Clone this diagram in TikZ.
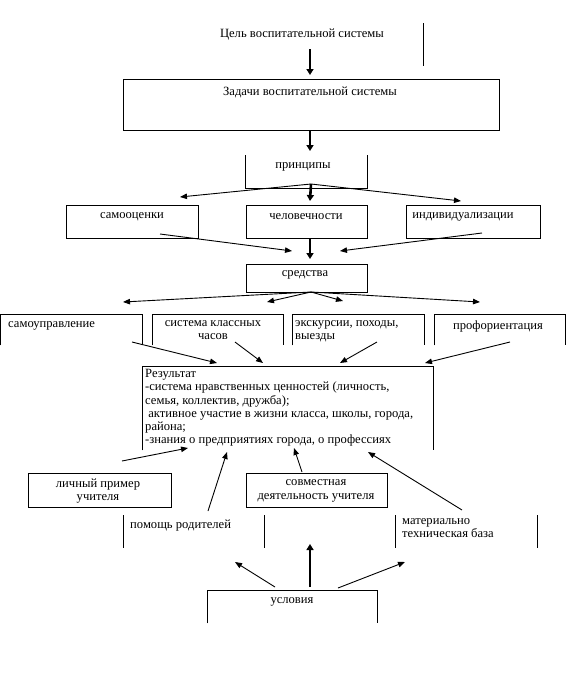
\documentclass[tikz,border=0pt]{standalone}
\usepackage{fontspec}
\setmainfont{Liberation Serif}
\usetikzlibrary{arrows.meta}
\begin{document}
\begin{tikzpicture}[x=1pt,y=-1pt,
  lw/.style={line width=0.8pt},
  box/.style={draw, lw, inner sep=0, anchor=north west},
  openbox/.style={inner sep=0, anchor=north west},
  lbl/.style={inner sep=0, font=\fontsize{12.6}{13.3}\selectfont},
  thinarr/.style={line width=0.9pt, -{Triangle[length=7pt,width=5.5pt]}},
  thickarr/.style={line width=2.6pt, -{Triangle[length=6pt,width=7pt]}},
]
\useasboundingbox (0,0) rectangle (568,681);

% ---- goal
\node[lbl] (goal) at (302,35) {Цель воспитательной системы};
\coordinate (vA) at (423,23); \coordinate (vB) at (423,66);
\draw[lw] (vA) -- (vB);

% ---- tasks
\node[box, minimum width=376pt, minimum height=51pt] (tasks) at (123,79) {};
\node[lbl] (tasks-t) at (310,92) {Задачи воспитательной системы};

% ---- principles (open top)
\node[openbox, minimum width=122pt, minimum height=33pt] (princ) at (245,155) {};
\draw[lw] (princ.north west) -- (princ.south west) -- (princ.south east) -- (princ.north east);
\node[lbl] (princ-t) at (303,167) {принципы};

% ---- principle boxes
\node[box, minimum width=132pt, minimum height=33pt] (p1) at (66,205) {};
\node[lbl] (p1-t) at (132,217) {самооценки};
\node[box, minimum width=121pt, minimum height=33pt] (p2) at (246,205) {};
\node[lbl] (p2-t) at (306,217) {человечности};
\node[box, minimum width=134pt, minimum height=33pt] (p3) at (406,205) {};
\node[lbl] (p3-t) at (463,217) {индивидуализации};

% ---- means
\node[box, minimum width=121pt, minimum height=28pt] (means) at (246,264) {};
\node[lbl] (means-t) at (305,275) {средства};

% ---- means row (open bottom)
\node[openbox, minimum width=142pt, minimum height=31pt] (m1) at (0,314) {};
\node[openbox, minimum width=131pt, minimum height=31pt] (m2) at (152,314) {};
\node[openbox, minimum width=132pt, minimum height=31pt] (m3) at (292,314) {};
\node[openbox, minimum width=131pt, minimum height=31pt] (m4) at (434,314) {};
\foreach \n in {m1,m2,m3,m4}
  \draw[lw] (\n.south west) -- (\n.north west) -- (\n.north east) -- (\n.south east);
\node[lbl, anchor=west] (m1-t) at (8,326) {самоуправление};
\node[lbl, align=center, anchor=north] (m2-t) at (213,320) {система классных\\часов};
\node[lbl, align=left, anchor=north west] (m3-t) at (295,320) {экскурсии, походы,\\выезды};
\node[lbl] (m4-t) at (498,326) {профориентация};

% ---- result (open bottom)
\node[openbox, minimum width=291pt, minimum height=84pt] (res) at (142,366) {};
\draw[lw] (res.south west) -- (res.north west) -- (res.north east) -- (res.south east);
\node[lbl, align=left, anchor=north west] (res-t) at (145,369) {Результат\\-система нравственных ценностей (личность,\\семья, коллектив, дружба);\\\ активное участие в жизни класса, школы, города,\\района;\\-знания о предприятиях города, о профессиях};

% ---- lower boxes
\node[box, minimum width=143pt, minimum height=34pt] (teach) at (28,473) {};
\node[lbl, align=center] (teach-t) at (98,491) {личный пример\\учителя};
\node[box, minimum width=141pt, minimum height=34pt] (joint) at (246,473) {};
\node[lbl, align=center] (joint-t) at (316,491) {совместная\\деятельность учителя};

% ---- bracketed items
\node[openbox, minimum width=141pt, minimum height=33pt] (par) at (123,515) {};
\draw[lw] (par.north west) -- (par.south west);
\draw[lw] (par.north east) -- (par.south east);
\node[lbl, anchor=west] (par-t) at (130,526) {помощь родителей};
\node[openbox, minimum width=142pt, minimum height=33pt] (mat) at (395,515) {};
\draw[lw] (mat.north west) -- (mat.south west);
\draw[lw] (mat.north east) -- (mat.south east);
\node[lbl, align=left, anchor=north west] (mat-t) at (402,518) {материально\\техническая база};

% ---- conditions (open bottom)
\node[openbox, minimum width=170pt, minimum height=33pt] (cond) at (207,590) {};
\draw[lw] (cond.south west) -- (cond.north west) -- (cond.north east) -- (cond.south east);
\node[lbl] (cond-t) at (292,602) {условия};

% ---- arrow coordinates
\coordinate (a1s) at (310,49);  \coordinate (a1e) at (310,75);
\coordinate (a2s) at (310,130); \coordinate (a2e) at (310,151);
\coordinate (ps) at (311,184);
\coordinate (p1e) at (180,197); \coordinate (p2e) at (310,201); \coordinate (p3e) at (461,201);
\coordinate (q1s) at (160,234); \coordinate (q1e) at (292,251);
\coordinate (q3s) at (482,233); \coordinate (q3e) at (340,251);
\coordinate (q2s) at (310,238); \coordinate (q2e) at (310,259);
\coordinate (ms) at (311,292);
\coordinate (m1e) at (123,302); \coordinate (m2e) at (267,302);
\coordinate (m3e) at (343,301); \coordinate (m4e) at (480,302);
\coordinate (r1s) at (132,342); \coordinate (r1e) at (217,363);
\coordinate (r2s) at (235,342); \coordinate (r2e) at (263,363);
\coordinate (r3s) at (377,342); \coordinate (r3e) at (340,363);
\coordinate (r4s) at (510,342); \coordinate (r4e) at (425,363);
\coordinate (b1s) at (122,461); \coordinate (b1e) at (188,448);
\coordinate (b2s) at (208,511); \coordinate (b2e) at (227,452);
\coordinate (b3s) at (302,472); \coordinate (b3e) at (294,448);
\coordinate (b4s) at (462,510); \coordinate (b4e) at (368,452);
\coordinate (c1s) at (275,587); \coordinate (c1e) at (235,562);
\coordinate (c2s) at (310,587); \coordinate (c2e) at (310,544);
\coordinate (c3s) at (338,588); \coordinate (c3e) at (405,562);

% ---- arrows
\draw[thickarr] (a1s) -- (a1e);
\draw[thickarr] (a2s) -- (a2e);
\draw[thinarr] (ps) -- (p1e);
\draw[thickarr] (ps) -- (p2e);
\draw[thinarr] (ps) -- (p3e);
\draw[thinarr] (q1s) -- (q1e);
\draw[thinarr] (q3s) -- (q3e);
\draw[thickarr] (q2s) -- (q2e);
\foreach \e in {m1e,m2e,m3e,m4e} \draw[thinarr] (ms) -- (\e);
\draw[thinarr] (r1s) -- (r1e);
\draw[thinarr] (r2s) -- (r2e);
\draw[thinarr] (r3s) -- (r3e);
\draw[thinarr] (r4s) -- (r4e);
\draw[thinarr] (b1s) -- (b1e);
\draw[thinarr] (b2s) -- (b2e);
\draw[thinarr] (b3s) -- (b3e);
\draw[thinarr] (b4s) -- (b4e);
\draw[thinarr] (c1s) -- (c1e);
\draw[thickarr] (c2s) -- (c2e);
\draw[thinarr] (c3s) -- (c3e);
\end{tikzpicture}
\end{document}
